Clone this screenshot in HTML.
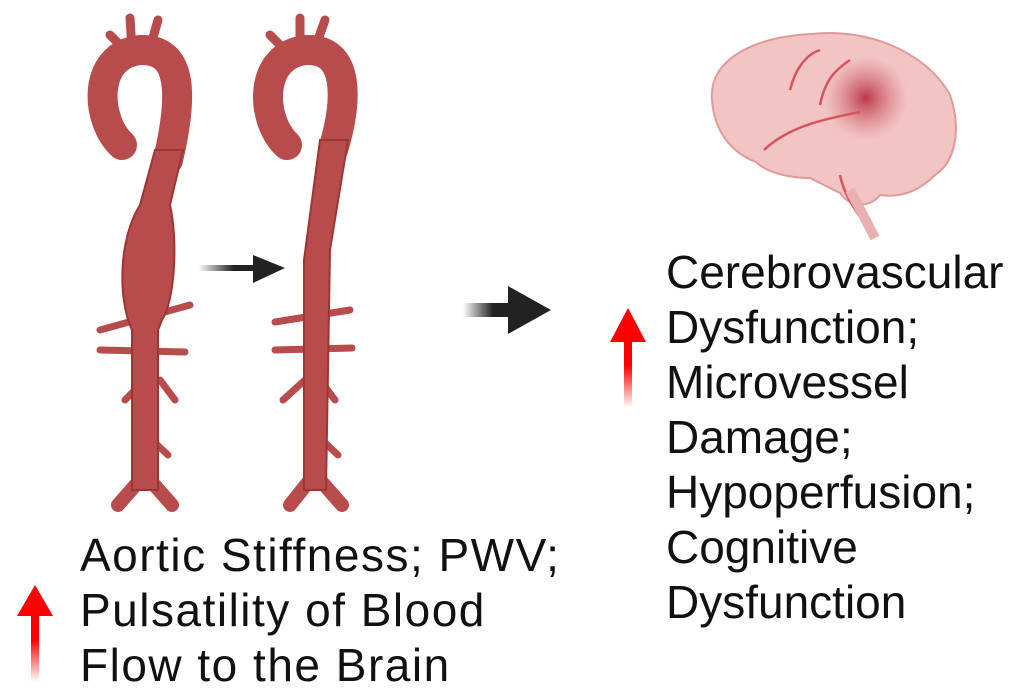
<!DOCTYPE html>
<html><head><style>
body{margin:0;width:1020px;height:691px;background:#fff;overflow:hidden;position:relative;font-family:"Liberation Sans",Arial,sans-serif}
.t{position:absolute;font-size:46px;line-height:55px;color:#111;white-space:nowrap}
</style></head><body>
<svg width="1020" height="691" style="position:absolute;left:0;top:0">
<defs>
<linearGradient id="ra" x1="0" y1="1" x2="0" y2="0"><stop offset="0" stop-color="#f00" stop-opacity="0"/><stop offset="0.6" stop-color="#f00"/><stop offset="1" stop-color="#f00"/></linearGradient>
<linearGradient id="ba" x1="0" y1="0" x2="1" y2="0"><stop offset="0" stop-color="#222" stop-opacity="0"/><stop offset="0.6" stop-color="#222"/></linearGradient>
<radialGradient id="spot" cx="0.5" cy="0.5" r="0.5"><stop offset="0" stop-color="#b02030" stop-opacity="0.85"/><stop offset="1" stop-color="#d06070" stop-opacity="0"/></radialGradient>
</defs>
<g fill="none" stroke="#b84b4b" stroke-linecap="round">
 <path d="M110,35 L130,55 M130,18 L132,50 M158,20 L150,48" stroke-width="9"/>
 <path d="M122,145 C95,120 92,55 140,50 C185,48 182,100 168,160" stroke-width="30"/>
 <path d="M100,330 L190,305 M100,350 L185,352 M125,400 L145,380 M160,380 L175,400 M152,440 L168,455" stroke-width="7"/>
 <path d="M140,480 L118,505 M150,480 L172,505" stroke-width="14"/>
 <path d="M270,35 L290,55 M300,18 L300,50 M325,20 L315,48" stroke-width="9"/>
 <path d="M287,145 C260,120 258,55 306,50 C350,48 348,100 333,150" stroke-width="30"/>
 <path d="M275,322 L350,310 M275,350 L352,348 M283,400 L305,380 M320,380 L335,400 M322,440 L338,455" stroke-width="7"/>
 <path d="M310,480 L290,505 M320,480 L342,505" stroke-width="14"/>
</g>
<path d="M155,150 L183,150 L170,205 C178,240 175,300 162,320 L158,330 L158,490 L132,490 L132,330 C118,300 118,240 140,205 Z" fill="#b84b4b" stroke="#9e3535" stroke-width="2"/>
<path d="M320,140 L348,140 L330,250 L326,490 L304,490 L304,260 Z" fill="#b84b4b" stroke="#9e3535" stroke-width="2"/>
<g>
<path d="M712,100 C708,58 758,36 812,34 C865,28 925,50 950,95 C962,130 955,162 935,175 C918,192 900,198 880,195 C870,208 850,208 840,193 L810,178 C788,178 766,172 756,162 C730,152 714,130 712,100 Z" fill="#f3c4c4" stroke="#e09a9a" stroke-width="2"/>
<circle cx="866" cy="98" r="42" fill="url(#spot)"/>
<path d="M764,150 C790,125 830,118 860,112 M790,90 C795,70 805,55 820,50 M820,105 C825,80 835,70 850,60 M840,175 C845,200 860,215 872,235" stroke="#d8545c" stroke-width="2.5" fill="none"/>
<path d="M850,190 L875,238" stroke="#e8b0b0" stroke-width="10"/>
</g>
<rect x="198" y="265" width="60" height="6" fill="url(#ba)"/>
<path d="M253,255 L285,268 L253,283 Z" fill="#222"/>
<rect x="463" y="303" width="50" height="14" fill="url(#ba)"/>
<path d="M508,286 L551,310 L508,334 Z" fill="#222"/>
<rect x="31" y="612" width="8" height="70" fill="url(#ra)"/>
<path d="M17,616 L35,585 L53,616 Z" fill="#f00"/>
<rect x="624" y="338" width="8" height="70" fill="url(#ra)"/>
<path d="M610,342 L628,308 L646,342 Z" fill="#f00"/>
</svg>
<div class="t" style="left:80px;top:528px;letter-spacing:1.5px">Aortic Stiffness; PWV;<br>Pulsatility of Blood<br>Flow to the Brain</div>
<div class="t" style="left:666px;top:245px">Cerebrovascular<br>Dysfunction;<br>Microvessel<br>Damage;<br>Hypoperfusion;<br>Cognitive<br>Dysfunction</div>
</body></html>
